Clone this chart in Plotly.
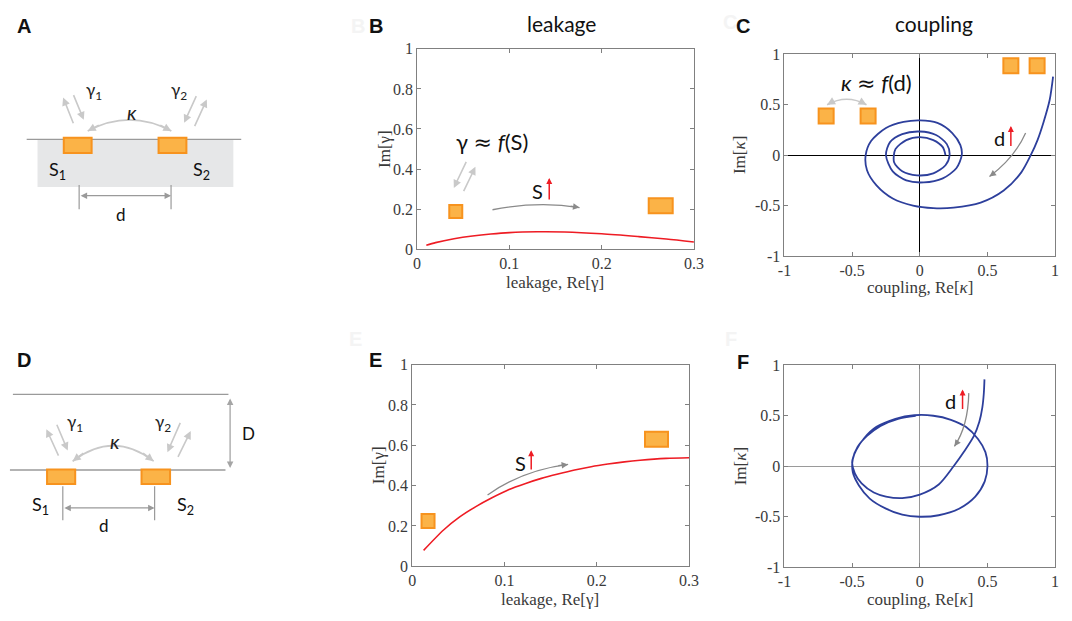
import numpy as np
import plotly.graph_objects as go

W, H = 1072, 621

# ---------------- data ----------------
# Panel B: leakage (open interface)
b_re = [0.01, 0.02, 0.04, 0.06, 0.08, 0.10, 0.13, 0.16, 0.20, 0.24, 0.27, 0.30]
b_im = [0.02, 0.033, 0.052, 0.066, 0.076, 0.083, 0.087, 0.086, 0.077, 0.063, 0.051, 0.036]

# Panel E: leakage (slab of thickness D)
e_re = [0.0124, 0.034, 0.0515, 0.069, 0.087, 0.105, 0.123, 0.14, 0.158, 0.176, 0.194,
        0.212, 0.23, 0.247, 0.275, 0.30]
e_im = [0.079, 0.18, 0.245, 0.296, 0.341, 0.381, 0.411, 0.436, 0.458, 0.478, 0.494,
        0.507, 0.518, 0.526, 0.535, 0.538]

# Panel C: coupling spiral
c_re = [0.985, 0.96, 0.915, 0.87, 0.82, 0.75, 0.62, 0.45, 0.25, 0.10, -0.05, -0.20, -0.32,
        -0.39, -0.40, -0.36, -0.25, -0.12, 0.0, 0.13, 0.24, 0.30, 0.31, 0.27, 0.17, 0.03,
        -0.10, -0.20, -0.25, -0.22, -0.13, 0.0, 0.12, 0.20, 0.22, 0.19, 0.10, -0.02, -0.13,
        -0.19, -0.18, -0.10, 0.0, 0.10, 0.17, 0.19]
c_im = [0.78, 0.55, 0.33, 0.15, 0.0, -0.17, -0.35, -0.47, -0.52, -0.525, -0.50, -0.43, -0.30,
        -0.15, 0.0, 0.14, 0.27, 0.33, 0.345, 0.32, 0.22, 0.10, 0.0, -0.13, -0.23, -0.27,
        -0.25, -0.16, 0.0, 0.13, 0.21, 0.235, 0.20, 0.11, 0.0, -0.10, -0.18, -0.20, -0.16,
        -0.07, 0.06, 0.15, 0.18, 0.15, 0.08, 0.0]

# Panel F: coupling (slab)
f_re = [0.478, 0.473, 0.462, 0.44, 0.40, 0.33, 0.25, 0.14, 0.0, -0.13, -0.25, -0.34, -0.43,
        -0.48, -0.50, -0.47, -0.41, -0.32, -0.18, -0.04, 0.10, 0.23, 0.34, 0.43, 0.485, 0.50,
        0.48, 0.41, 0.29, 0.14, 0.0, -0.13, -0.25, -0.37, -0.45, -0.495, -0.495, -0.46,
        -0.39, -0.29, -0.16, -0.03]
f_im = [0.86, 0.72, 0.58, 0.44, 0.30, 0.15, 0.0, -0.18, -0.28, -0.315, -0.30, -0.26, -0.17,
        -0.07, 0.04, 0.16, 0.28, 0.39, 0.47, 0.505, 0.50, 0.46, 0.39, 0.27, 0.14, 0.0,
        -0.15, -0.30, -0.42, -0.485, -0.50, -0.48, -0.42, -0.32, -0.19, -0.06, 0.07, 0.19,
        0.30, 0.40, 0.47, 0.50]

# resonator markers (data positions)
b_pads = [(0.0419, 0.188, 13, 13), (0.264, 0.217, 24, 15)]
e_pads = [(0.0172, 0.224, 13, 14), (0.2648, 0.6295, 23, 15)]
c_pads = [(-0.692, 0.389, 15, 15), (-0.382, 0.389, 15, 15), (0.673, 0.887, 15, 15), (0.867, 0.887, 15, 15)]

leak_xticks = [0, 0.1, 0.2, 0.3]
leak_xlabels = ["0", "0.1", "0.2", "0.3"]
leak_yticks = [0, 0.2, 0.4, 0.6, 0.8, 1]
leak_ylabels = ["0", "0.2", "0.4", "0.6", "0.8", "1"]
coup_ticks = [-1, -0.5, 0, 0.5, 1]
coup_labels = ["-1", "-0.5", "0", "0.5", "1"]

# ---------------- style ----------------
SERIF = "Liberation Serif"
SANS = "Lato"
AX = "#808080"
TXT = "#3a3a3a"
ORANGE_F = "#FBB347"
ORANGE_L = "#F7931E"
GREY_ARR = "#8a8a8a"
LIGHT_ARR = "#c9c9c9"
BLUE = "#2d3f9c"
RED = "#ee1c24"
APPROX = "<span style=\"font-family:'DejaVu Sans'\">≈</span>"

fig = go.Figure()

panels = {
    "B": dict(xd=(416.7, 698), yd=(42, 248)),
    "C": dict(xd=(790, 1065), yd=(47.7, 255)),
    "E": dict(xd=(411.7, 693), yd=(366.7, 574)),
    "F": dict(xd=(790, 1065), yd=(367.3, 575)),
}


def xdom(a, b):
    return [a / W, b / W]


def ydom(top, bot):
    return [1 - bot / H, 1 - top / H]


base_axis = dict(showline=True, mirror="ticks", linecolor=AX, linewidth=1, ticks="inside",
                 ticklen=4, tickcolor=AX, showgrid=False, zeroline=False,
                 tickfont=dict(family=SERIF, size=16, color=TXT), fixedrange=True)

layout_axes = {}
for key, name in zip(["B", "C", "E", "F"], ["", "2", "3", "4"]):
    p = panels[key]
    xa = dict(base_axis, domain=xdom(*p["xd"]), anchor="y" + name)
    ya = dict(base_axis, domain=ydom(*p["yd"]), anchor="x" + name)
    if key in ("B", "E"):
        xa.update(range=[0, 0.3], tickvals=leak_xticks, ticktext=leak_xlabels)
        ya.update(range=[0, 1], tickvals=leak_yticks, ticktext=leak_ylabels)
    else:
        zc = "#000000" if key == "C" else "#9a9a9a"
        zw = 1.3 if key == "C" else 1
        xa.update(range=[-1, 1], tickvals=coup_ticks, ticktext=coup_labels,
                  zeroline=True, zerolinecolor=zc, zerolinewidth=zw)
        ya.update(range=[-1, 1], tickvals=coup_ticks, ticktext=coup_labels,
                  zeroline=True, zerolinecolor=zc, zerolinewidth=zw)
    layout_axes["xaxis" + name] = xa
    layout_axes["yaxis" + name] = ya

# overlay pixel axis for schematics and free text
layout_axes["xaxis5"] = dict(domain=[0, 1], range=[0, W], visible=False, anchor="y5", fixedrange=True)
layout_axes["yaxis5"] = dict(domain=[0, 1], range=[H, 0], visible=False, anchor="x5", fixedrange=True)

# ---------------- curves ----------------
fig.add_trace(go.Scatter(x=b_re, y=b_im, mode="lines", xaxis="x", yaxis="y",
                         line=dict(color=RED, width=1.6, shape="spline", smoothing=0.8),
                         showlegend=False, hoverinfo="skip"))
fig.add_trace(go.Scatter(x=c_re, y=c_im, mode="lines", xaxis="x2", yaxis="y2",
                         line=dict(color=BLUE, width=1.8, shape="spline", smoothing=0.8),
                         showlegend=False, hoverinfo="skip"))
fig.add_trace(go.Scatter(x=e_re, y=e_im, mode="lines", xaxis="x3", yaxis="y3",
                         line=dict(color=RED, width=1.6, shape="spline", smoothing=0.8),
                         showlegend=False, hoverinfo="skip"))
fig.add_trace(go.Scatter(x=f_re, y=f_im, mode="lines", xaxis="x4", yaxis="y4",
                         line=dict(color=BLUE, width=1.8, shape="spline", smoothing=0.8),
                         showlegend=False, hoverinfo="skip"))
fig.add_trace(go.Scatter(x=[0], y=[0], mode="markers", xaxis="x5", yaxis="y5",
                         marker=dict(size=1, color="rgba(0,0,0,0)"), showlegend=False, hoverinfo="skip"))

shapes = []
annotations = []


def pad_shape(x, y, w, h, xref, yref):
    return dict(type="rect", xref=xref, yref=yref, xsizemode="pixel", ysizemode="pixel",
                xanchor=x, yanchor=y, x0=-w / 2, x1=w / 2, y0=-h / 2, y1=h / 2,
                fillcolor=ORANGE_F, line=dict(color=ORANGE_L, width=2), layer="above")


for (x, y, w, h) in b_pads:
    shapes.append(pad_shape(x, y, w, h, "x", "y"))
for (x, y, w, h) in e_pads:
    shapes.append(pad_shape(x, y, w, h, "x3", "y3"))
for (x, y, w, h) in c_pads:
    shapes.append(pad_shape(x, y, w, h, "x2", "y2"))


def arrow(x, y, ax_, ay_, xref, yref, color, width=1.3, head=2, size=1.0, both=False):
    d = dict(x=x, y=y, ax=ax_, ay=ay_, xref=xref, yref=yref, axref=xref, ayref=yref,
             text="", showarrow=True, arrowhead=head, arrowsize=size, arrowwidth=width,
             arrowcolor=color, standoff=0, startstandoff=0)
    if both:
        d.update(arrowside="end+start", startarrowhead=head, startarrowsize=size)
    return d


def curved(p0, pm, p1, xref, yref, color, width=1.3, both=False, frac=0.25, head=2, size=1.0):
    x0, y0 = p0
    x1, y1 = p1
    mx, my = pm
    cx = 2 * mx - (x0 + x1) / 2
    cy = 2 * my - (y0 + y1) / 2
    shapes.append(dict(type="path", xref=xref, yref=yref,
                       path=f"M {x0},{y0} Q {cx},{cy} {x1},{y1}",
                       line=dict(color=color, width=width), layer="above"))
    tx = x1 + frac * (cx - x1)
    ty = y1 + frac * (cy - y1)
    annotations.append(arrow(x1, y1, tx, ty, xref, yref, color, width, head, size))
    if both:
        sx = x0 + frac * (cx - x0)
        sy = y0 + frac * (cy - y0)
        annotations.append(arrow(x0, y0, sx, sy, xref, yref, color, width, head, size))


def text(x, y, s, size=17, family=SANS, color="#111111", angle=0, xref="x5", yref="y5"):
    annotations.append(dict(x=x, y=y, xref=xref, yref=yref, text=s, showarrow=False,
                            font=dict(family=family, size=size, color=color),
                            textangle=angle, xanchor="center", yanchor="middle"))


# ---------------- schematic A ----------------
shapes.append(dict(type="rect", xref="x5", yref="y5", x0=31, x1=230, y0=135, y1=184,
                   fillcolor="#e6e7e8", line=dict(width=0), layer="above"))
shapes.append(dict(type="line", xref="x5", yref="y5", x0=20, x1=238, y0=135, y1=135,
                   line=dict(color="#9a9a9a", width=1.3), layer="above"))
for (x0, x1) in [(57.7, 86), (154, 182.3)]:
    shapes.append(dict(type="rect", xref="x5", yref="y5", x0=x0, x1=x1, y0=133.5, y1=149,
                       fillcolor=ORANGE_F, line=dict(color=ORANGE_L, width=2), layer="above"))
for xv in (73.3, 166.7):
    shapes.append(dict(type="line", xref="x5", yref="y5", x0=xv, x1=xv, y0=182, y1=207,
                       line=dict(color="#9a9a9a", width=1.2), layer="above"))
annotations.append(arrow(166.7, 193, 73.3, 193, "x5", "y5", "#9a9a9a", 1.3, 2, 1.0, both=True))
text(116, 212, "d", 17)
text(51, 167, "S<sub>1</sub>", 18)
text(198, 167, "S<sub>2</sub>", 18)
text(88, 85, "γ<sub>1</sub>", 17, color="#222222")
text(175, 85, "γ<sub>2</sub>", 17, color="#222222")
text(127, 107, "<i>κ</i>", 20, family=SANS, color="#222222")
curved((82, 126.5), (124.5, 115), (167, 126.5), "x5", "y5", LIGHT_ARR, 1.6, both=True, frac=0.3)
annotations.append(arrow(57, 92, 68, 120, "x5", "y5", LIGHT_ARR, 1.6))
annotations.append(arrow(78, 115, 67, 88, "x5", "y5", LIGHT_ARR, 1.6))
annotations.append(arrow(180, 118, 193, 89, "x5", "y5", LIGHT_ARR, 1.6))
annotations.append(arrow(203, 94, 190, 123, "x5", "y5", LIGHT_ARR, 1.6))

# ---------------- schematic D ----------------
shapes.append(dict(type="line", xref="x5", yref="y5", x0=6, x1=225, y0=397.3, y1=397.3,
                   line=dict(color="#9a9a9a", width=1.3), layer="above"))
shapes.append(dict(type="line", xref="x5", yref="y5", x0=3, x1=222, y0=475, y1=475,
                   line=dict(color="#9a9a9a", width=1.3), layer="above"))
for (x0, x1) in [(40.7, 69.3), (136.7, 165.7)]:
    shapes.append(dict(type="rect", xref="x5", yref="y5", x0=x0, x1=x1, y0=474.5, y1=489.3,
                       fillcolor=ORANGE_F, line=dict(color=ORANGE_L, width=2), layer="above"))
for xv in (56.7, 150):
    shapes.append(dict(type="line", xref="x5", yref="y5", x0=xv, x1=xv, y0=491.7, y1=526.7,
                       line=dict(color="#9a9a9a", width=1.2), layer="above"))
annotations.append(arrow(150, 514, 56.7, 514, "x5", "y5", "#9a9a9a", 1.3, 2, 1.0, both=True))
annotations.append(arrow(226.7, 473, 226.7, 400, "x5", "y5", "#a5a5a5", 1.3, 2, 1.0, both=True))
text(99, 532, "d", 17)
text(245, 437, "D", 17)
text(34, 511, "S<sub>1</sub>", 18)
text(181, 511, "S<sub>2</sub>", 18)
text(69, 427, "γ<sub>1</sub>", 17, color="#222222")
text(159, 427, "γ<sub>2</sub>", 17, color="#222222")
text(110, 445, "<i>κ</i>", 20, family=SANS, color="#222222")
curved((66.7, 466), (108, 450), (149, 466), "x5", "y5", LIGHT_ARR, 1.6, both=True, frac=0.3)
annotations.append(arrow(40, 433, 53, 461.7, "x5", "y5", LIGHT_ARR, 1.6))
annotations.append(arrow(61.7, 455, 50, 427, "x5", "y5", LIGHT_ARR, 1.6))
annotations.append(arrow(163, 456.7, 176.7, 425, "x5", "y5", LIGHT_ARR, 1.6))
annotations.append(arrow(186.7, 435, 173, 463, "x5", "y5", LIGHT_ARR, 1.6))

# ---------------- panel B decorations ----------------
text(0.081, 0.54, "γ " + APPROX + " <i>f</i>(S)", 22, xref="x", yref="y")
annotations.append(arrow(0.0398, 0.306, 0.054, 0.443, "x", "y", LIGHT_ARR, 1.6))
annotations.append(arrow(0.0632, 0.411, 0.0497, 0.282, "x", "y", LIGHT_ARR, 1.6))
text(0.131, 0.29, "S", 20, xref="x", yref="y")
annotations.append(arrow(0.1432, 0.356, 0.1432, 0.241, "x", "y", RED, 1.5, 2, 0.8))
curved((0.0817, 0.197), (0.13, 0.222), (0.176, 0.208), "x", "y", GREY_ARR, 1.3, frac=0.25)

# ---------------- panel C decorations ----------------
text(-0.32, 0.72, "<i>κ</i> " + APPROX + " <i>f</i>(d)", 22, xref="x2", yref="y2")
curved((-0.685, 0.50), (-0.54, 0.555), (-0.394, 0.50), "x2", "y2", LIGHT_ARR, 1.6, both=True, frac=0.3)
text(0.588, 0.174, "d", 20, xref="x2", yref="y2")
annotations.append(arrow(0.673, 0.29, 0.673, 0.077, "x2", "y2", RED, 1.5, 2, 0.8))
curved((0.782, 0.221), (0.675, -0.01), (0.515, -0.212), "x2", "y2", GREY_ARR, 1.3, frac=0.25)

# ---------------- panel E decorations ----------------
text(0.117, 0.51, "S", 20, xref="x3", yref="y3")
annotations.append(arrow(0.129, 0.576, 0.129, 0.473, "x3", "y3", RED, 1.5, 2, 0.8))
curved((0.0817, 0.354), (0.1226, 0.453), (0.169, 0.505), "x3", "y3", GREY_ARR, 1.3, frac=0.25)

# ---------------- panel F decorations ----------------
text(0.224, 0.647, "d", 20, xref="x4", yref="y4")
annotations.append(arrow(0.316, 0.76, 0.316, 0.551, "x4", "y4", RED, 1.5, 2, 0.8))
curved((0.362, 0.724), (0.333, 0.43), (0.256, 0.197), "x4", "y4", GREY_ARR, 1.3, frac=0.25)

# ---------------- axis titles ----------------
text(557, 282, "leakage, Re[γ]", 17, family=SERIF, color=TXT)
text(383, 145, "Im[γ]", 17, family=SERIF, color=TXT, angle=-90)
text(928, 287, "coupling, Re[<i>κ</i>]", 17, family=SERIF, color=TXT)
text(745, 151, "Im[<i>κ</i>]", 17, family=SERIF, color=TXT, angle=-90)
text(552, 608, "leakage, Re[γ]", 17, family=SERIF, color=TXT)
text(377, 470, "Im[γ]", 17, family=SERIF, color=TXT, angle=-90)
text(928, 608, "coupling, Re[<i>κ</i>]", 17, family=SERIF, color=TXT)
text(745, 471, "Im[<i>κ</i>]", 17, family=SERIF, color=TXT, angle=-90)

# ---------------- titles and panel letters ----------------
text(563, 16, "leakage", 21)
text(942, 16, "coupling", 21)
for (x, y, s) in [(357, 18, "B"), (735, 14, "C"), (354, 340, "E"), (736, 340, "F")]:
    text(x, y, "<b>" + s + "</b>", 20, family="Liberation Sans", color="#f4f4f4")
for (x, y, s) in [(17, 18, "A"), (375, 18, "B"), (748, 18, "C"),
                  (17, 362, "D"), (374, 362, "E"), (748, 364, "F")]:
    text(x, y, "<b>" + s + "</b>", 20, family="Liberation Sans", color="#111111")

fig.update_layout(width=W, height=H, margin=dict(l=0, r=0, t=0, b=0),
                  paper_bgcolor="white", plot_bgcolor="rgba(0,0,0,0)",
                  showlegend=False, shapes=shapes, annotations=annotations, **layout_axes)

fig.write_html("out.html", config={"displayModeBar": False},
               post_script="document.body.style.margin='0';document.body.style.overflow='hidden';")
